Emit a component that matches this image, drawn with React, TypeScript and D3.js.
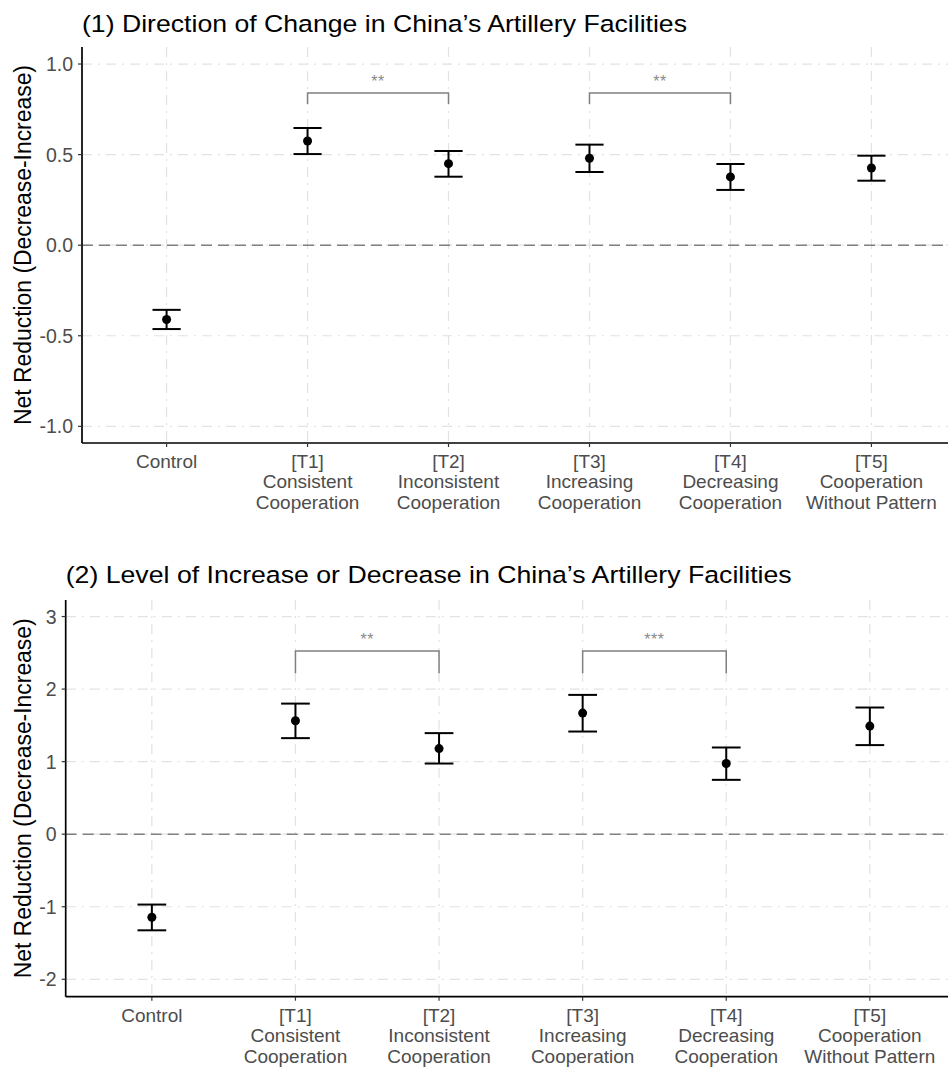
import React from "react";
import * as d3 from "d3";

const categories = ["Control", "[T1]\nConsistent\nCooperation", "[T2]\nInconsistent\nCooperation", "[T3]\nIncreasing\nCooperation", "[T4]\nDecreasing\nCooperation", "[T5]\nCooperation\nWithout Pattern"];

// Panel 1
const p1Title = "(1) Direction of Change in China\u2019s Artillery Facilities";
const p1Est = [-0.41, 0.575, 0.45, 0.48, 0.377, 0.426];
const p1Low = [-0.463, 0.503, 0.378, 0.404, 0.305, 0.356];
const p1High = [-0.357, 0.647, 0.52, 0.555, 0.448, 0.494];
const p1Ticks = [-1.0, -0.5, 0.0, 0.5, 1.0];
const p1Brackets = [
  { from: 1, to: 2, y: 0.84, leg: 0.78, label: "**" },
  { from: 3, to: 4, y: 0.84, leg: 0.78, label: "**" },
];

// Panel 2
const p2Title = "(2) Level of Increase or Decrease in China\u2019s Artillery Facilities";
const p2Est = [-1.145, 1.563, 1.18, 1.669, 0.974, 1.49];
const p2Low = [-1.325, 1.324, 0.974, 1.415, 0.749, 1.228];
const p2High = [-0.97, 1.8, 1.393, 1.92, 1.195, 1.746];
const p2Ticks = [-2, -1, 0, 1, 2, 3];
const p2Brackets = [
  { from: 1, to: 2, y: 2.524, leg: 2.22, label: "**" },
  { from: 3, to: 4, y: 2.524, leg: 2.22, label: "***" },
];

const yTitle = "Net Reduction (Decrease-Increase)";
const FONT = "'Liberation Sans', Arial, Helvetica, sans-serif";

type Bracket = { from: number; to: number; y: number; leg: number; label: string };

const hyphenate = (f: (v: number) => string) => (v: number) => f(v).replace("\u2212", "-");

function Panel(props: {
  title: string;
  titleLen: number;
  est: number[];
  low: number[];
  high: number[];
  ticks: number[];
  fmt: (v: number) => string;
  yDomain: [number, number];
  brackets: Bracket[];
  left: number;
  top: number;
  bottom: number;
  titleY: number;
}) {
  const { title, titleLen, est, low, high, ticks, fmt, yDomain, brackets, left, top, bottom, titleY } = props;
  const right = 956;
  const x = d3.scalePoint<string>().domain(categories).range([left, right]).padding(0.6);
  const step = x.step();
  const y = d3.scaleLinear().domain(yDomain).range([bottom, top]);
  const grid = "#e2e2e2";
  const dash = "10,6,2,6";
  const capHalf = step * 0.1;
  return (
    <g>
      <text x={left} y={titleY} fontSize={24.5} fill="#000" fontFamily={FONT} textLength={titleLen} lengthAdjust="spacingAndGlyphs">{title}</text>
      {/* grid */}
      {ticks.map((t) => (
        <line key={"hg" + t} x1={left} x2={right} y1={y(t)} y2={y(t)} stroke={grid} strokeWidth={1.2} strokeDasharray={dash} />
      ))}
      {categories.map((c) => (
        <line key={"vg" + c} x1={x(c)} x2={x(c)} y1={top} y2={bottom} stroke={grid} strokeWidth={1.2} strokeDasharray={dash} />
      ))}
      {/* zero line */}
      <line x1={left} x2={right} y1={y(0)} y2={y(0)} stroke="#808080" strokeWidth={1.5} strokeDasharray="11,6" />
      {/* brackets */}
      {brackets.map((b, i) => {
        const x1 = x(categories[b.from])!;
        const x2 = x(categories[b.to])!;
        return (
          <g key={"br" + i}>
            <path d={`M${x1},${y(b.leg)}V${y(b.y)}H${x2}V${y(b.leg)}`} fill="none" stroke="#808080" strokeWidth={1.5} />
            <text x={(x1 + x2) / 2} y={y(b.y) - 6.5} textAnchor="middle" fontSize={16} fill="#8a8a8a" fontFamily={FONT} letterSpacing={0.5}>{b.label}</text>
          </g>
        );
      })}
      {/* error bars */}
      {categories.map((c, i) => {
        const cx = x(c)!;
        return (
          <g key={"eb" + i} stroke="#000" strokeWidth={2}>
            <line x1={cx} x2={cx} y1={y(low[i])} y2={y(high[i])} />
            <line x1={cx - capHalf} x2={cx + capHalf} y1={y(low[i])} y2={y(low[i])} />
            <line x1={cx - capHalf} x2={cx + capHalf} y1={y(high[i])} y2={y(high[i])} />
            <circle cx={cx} cy={y(est[i])} r={4.5} fill="#000" stroke="none" />
          </g>
        );
      })}
      {/* axes */}
      <line x1={left} x2={left} y1={top} y2={bottom} stroke="#000" strokeWidth={1.7} />
      <line x1={left} x2={right} y1={bottom} y2={bottom} stroke="#000" strokeWidth={1.7} />
      {ticks.map((t) => (
        <g key={"yt" + t}>
          <line x1={left - 4} x2={left} y1={y(t)} y2={y(t)} stroke="#333" strokeWidth={1.2} />
          <text x={left - 9} y={y(t)} dy="0.36em" textAnchor="end" fontSize={19.5} fill="#4d4d4d" fontFamily={FONT}>{fmt(t)}</text>
        </g>
      ))}
      {categories.map((c) => (
        <g key={"xt" + c}>
          <line x1={x(c)} x2={x(c)} y1={bottom} y2={bottom + 4} stroke="#333" strokeWidth={1.2} />
          <text x={x(c)} y={bottom + 25} textAnchor="middle" fontSize={19} fill="#4d4d4d" fontFamily={FONT}>
            {c.split("\n").map((ln, k) => (
              <tspan key={k} x={x(c)} dy={k === 0 ? 0 : 20.4}>{ln}</tspan>
            ))}
          </text>
        </g>
      ))}
      <text transform={`translate(31,${(top + bottom) / 2}) rotate(-90)`} textAnchor="middle" fontSize={23} fill="#000" fontFamily={FONT} textLength={360} lengthAdjust="spacingAndGlyphs">{yTitle}</text>
    </g>
  );
}

export default function App() {
  return (
    <svg width={948} height={1068} style={{ position: "absolute", left: 0, top: 0, background: "#fff" }}>
      <rect width={948} height={1068} fill="#fff" />
      <Panel title={p1Title} titleLen={605} est={p1Est} low={p1Low} high={p1High} ticks={p1Ticks} fmt={hyphenate(d3.format(".1f"))}
        yDomain={[-1.092, 1.094]} brackets={p1Brackets} left={82} top={47} bottom={443} titleY={31.5} />
      <Panel title={p2Title} titleLen={726} est={p2Est} low={p2Low} high={p2High} ticks={p2Ticks} fmt={hyphenate(d3.format("d"))}
        yDomain={[-2.24, 3.228]} brackets={p2Brackets} left={65.7} top={600} bottom={996.7} titleY={582.5} />
    </svg>
  );
}
